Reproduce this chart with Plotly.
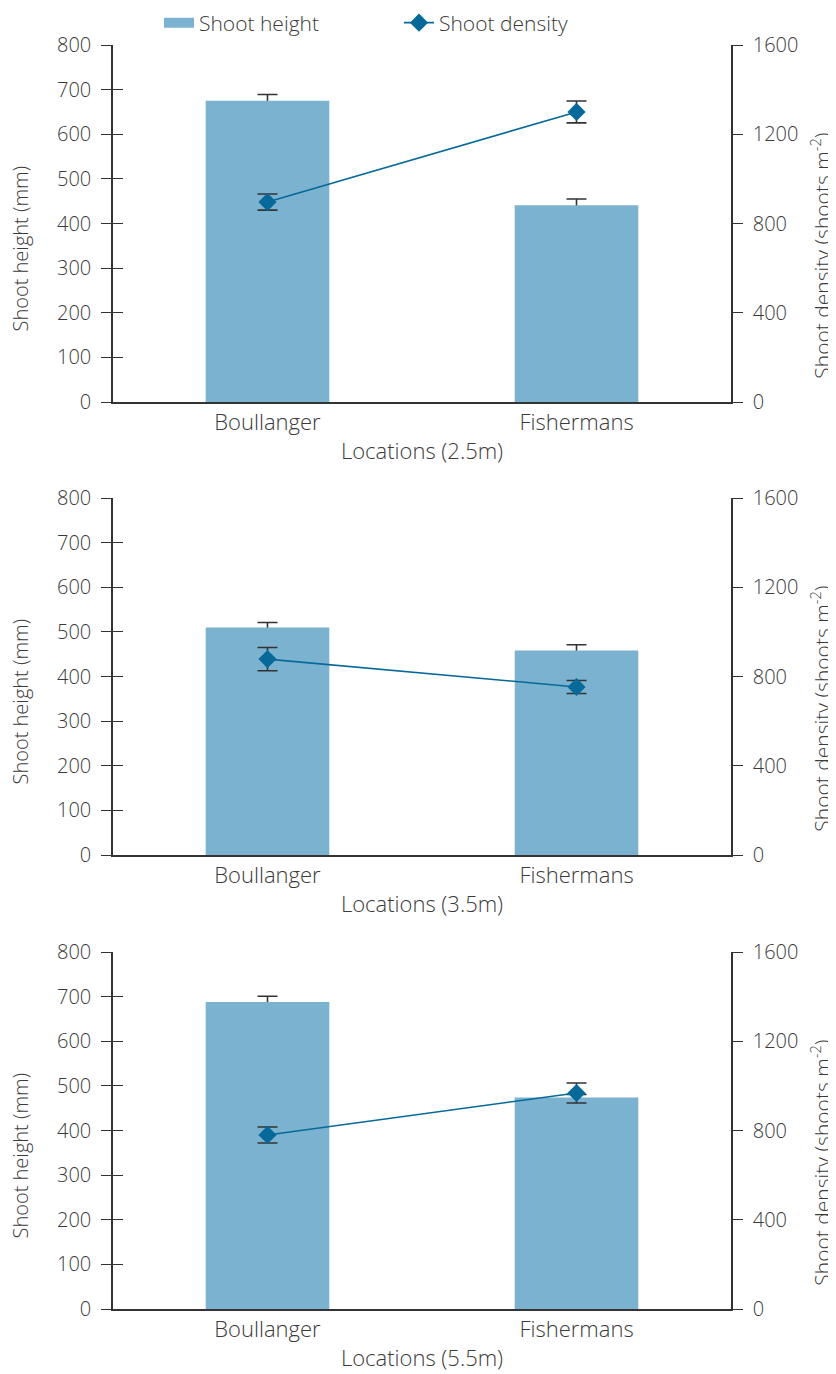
import plotly.graph_objects as go

# ---------------- data ----------------
locations = ["Boullanger", "Fishermans"]
depth_titles = ["Locations (2.5m)", "Locations (3.5m)", "Locations (5.5m)"]
height_mm = [[675, 441], [510, 458], [688, 474]]
height_err = [[14, 14], [11, 13], [13, 7]]
density = [[896, 1300], [878, 753], [780, 968]]
density_err = [[36, 49], [52, 29], [36, 45]]
height_ticks = [0, 100, 200, 300, 400, 500, 600, 700, 800]
density_ticks = [0, 400, 800, 1200, 1600]
left_title = "Shoot height (mm)"
right_title = "Shoot density (shoots m<sup>-2</sup>)"

# ---------------- style ----------------
BAR = "#7ab2cf"
LINE = "#07699a"
AX = "#333333"
TXT = "#3a3a3a"
FONT = "Open Sans"
FS_NUM = 20
FS_TXT = 22

# the page body has an 8px margin, so the figure is drawn 8px smaller
OFF = 8
W, H = 836 - OFF, 1374 - OFF
ML, MR, MT, MB = 113 - OFF, 105, 45 - OFF, 65
PH = H - MT - MB
PW = W - ML - MR
panels_px = [(45, 402), (498, 855), (952, 1309)]  # top, bottom in screen px
domains = [[(1374 - MB - b) / PH, (1374 - MB - t) / PH] for t, b in panels_px]

num_font = dict(family=FONT, size=FS_NUM, color=TXT, weight=300)
txt_font = dict(family=FONT, size=FS_TXT, color=TXT, weight=300)
lt_font = dict(family=FONT, size=20, color=TXT, weight=300)
rt_font = dict(family=FONT, size=21, color=TXT, weight=300)

fig = go.Figure()
layout = dict(
    width=W, height=H,
    margin=dict(l=ML, r=MR, t=MT, b=MB, autoexpand=False),
    paper_bgcolor="white", plot_bgcolor="rgba(0,0,0,0)",
    font=num_font,
    showlegend=True,
    legend=dict(orientation="h", x=(151 - ML) / PW, xanchor="left", y=1 + 22 / PH, yanchor="middle",
                font=dict(family=FONT, size=21, color=TXT, weight=300), bgcolor="rgba(0,0,0,0)",
                entrywidth=195, entrywidthmode="pixels", itemwidth=30),
)
annotations = []

# legend entry for the bars (wide swatch like the original)
fig.add_trace(go.Scatter(
    x=[None], y=[None], mode="lines", name="Shoot height",
    line=dict(color=BAR, width=10), legendgroup="h", showlegend=True, hoverinfo="skip",
))

for p in range(3):
    xs = "" if p == 0 else str(p + 1)
    ia, ib, ic, idd = 4 * p + 1, 4 * p + 2, 4 * p + 3, 4 * p + 4
    ya = "y" if ia == 1 else f"y{ia}"
    yb, yc, yd = f"y{ib}", f"y{ic}", f"y{idd}"
    xa = "x" + xs

    # height error bars (drawn behind the bars, only the upper part shows)
    fig.add_trace(go.Scatter(
        x=locations, y=height_mm[p], xaxis=xa, yaxis=ya, mode="markers",
        marker=dict(size=1, color="rgba(0,0,0,0)"), showlegend=False, hoverinfo="skip",
        error_y=dict(type="data", array=height_err[p], color=AX, thickness=1.6, width=10),
    ))
    fig.add_trace(go.Bar(
        x=locations, y=height_mm[p], xaxis=xa, yaxis=yb, name="Shoot height",
        marker=dict(color=BAR, line=dict(width=0)), width=0.4,
        showlegend=False, legendgroup="h",
    ))
    fig.add_trace(go.Scatter(
        x=locations, y=density[p], xaxis=xa, yaxis=yc, name="Shoot density",
        mode="lines+markers", line=dict(color=LINE, width=1.6),
        marker=dict(symbol="diamond", size=14, color=LINE),
        error_y=dict(type="data", array=density_err[p], color=AX, thickness=1.6, width=10),
        showlegend=(p == 0), legendgroup="d",
    ))

    dom = domains[p]
    layout["xaxis" + xs] = dict(
        domain=[0, 1], anchor=ya, type="category", range=[-0.5, 1.5],
        showline=True, linecolor=AX, linewidth=1.5, ticks="", showgrid=False,
        tickfont=txt_font, ticklabelstandoff=0,
        title=dict(text=depth_titles[p], font=txt_font, standoff=8),
        zeroline=False, automargin=False,
    )
    common = dict(range=[0, 800], showgrid=False, zeroline=False, fixedrange=True, automargin=False)
    layout["yaxis" + ("" if ia == 1 else str(ia))] = dict(
        domain=dom, anchor=xa, side="left", tickvals=height_ticks,
        showline=True, linecolor=AX, linewidth=1.5,
        ticks="outside", ticklen=10, tickwidth=1.3, tickcolor=AX,
        tickfont=num_font, ticklabelstandoff=6,
        **common)
    layout[f"yaxis{ib}"] = dict(
        domain=dom, anchor=xa, overlaying=ya, side="left", tickvals=height_ticks,
        showline=False, ticks="inside", ticklen=10, tickwidth=1.3, tickcolor=AX,
        showticklabels=False, **common)
    common2 = dict(range=[0, 1600], showgrid=False, zeroline=False, fixedrange=True, automargin=False)
    layout[f"yaxis{ic}"] = dict(
        domain=dom, anchor=xa, overlaying=ya, side="right",
        tickvals=density_ticks, showline=True, linecolor=AX, linewidth=1.5,
        ticks="outside", ticklen=10, tickwidth=1.3, tickcolor=AX,
        tickfont=num_font, ticklabelstandoff=6,
        **common2)
    layout[f"yaxis{idd}"] = dict(
        domain=dom, anchor=xa, overlaying=ya, side="right",
        tickvals=density_ticks, showline=False, ticks="inside", ticklen=10,
        tickwidth=1.3, tickcolor=AX, showticklabels=False, **common2)

    # axis titles (sit a little below the middle of each panel, as in the original)
    ydom = ("y" if ia == 1 else f"y{ia}") + " domain"
    annotations.append(dict(
        text=left_title, textangle=-90, xref="paper", yref=ydom,
        x=(20 - 113) / PW, y=0.43, xanchor="center", yanchor="middle",
        showarrow=False, font=lt_font))
    annotations.append(dict(
        text=right_title, textangle=-90, xref="paper", yref=ydom,
        x=(821 - 113) / PW, y=0.41, xanchor="center", yanchor="middle",
        showarrow=False, font=rt_font))

layout["annotations"] = annotations
fig.update_layout(**layout)
fig.write_html("out.html")
